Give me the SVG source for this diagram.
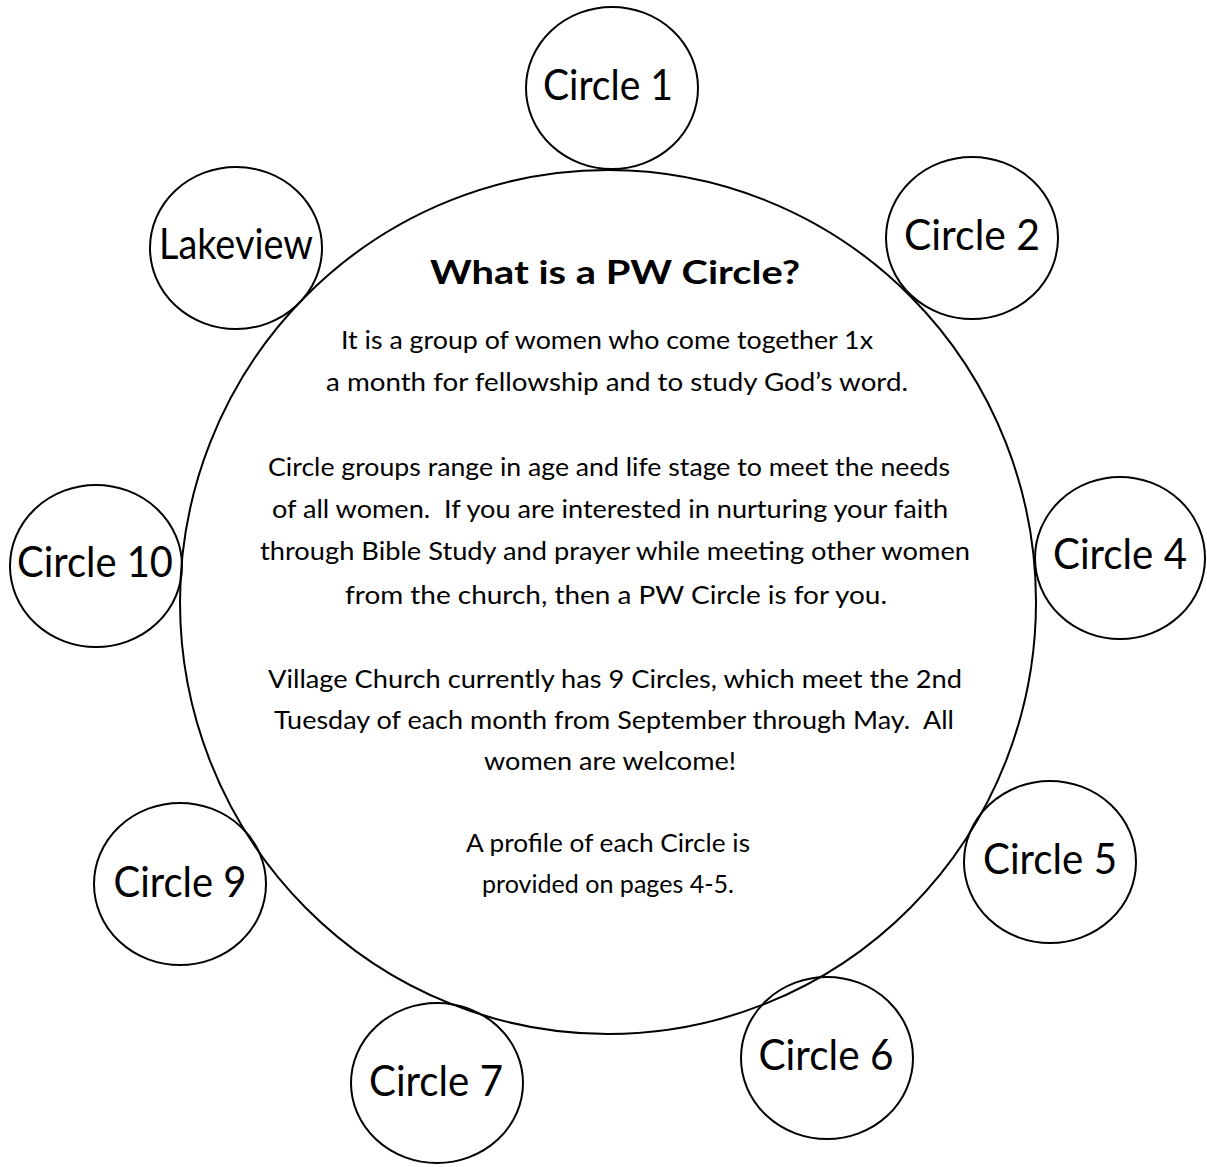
<svg xmlns="http://www.w3.org/2000/svg" width="1207" height="1167" viewBox="0 0 1207 1167">
<style>
  .ring { fill: none; stroke: #000; stroke-width: 2; }
  .lbl { font-family: Lato, "Open Sans", "Liberation Sans", sans-serif; font-size: 42px; fill: #000; text-anchor: middle; }
  .title { font-family: Lato, "Open Sans", "Liberation Sans", sans-serif; font-size: 32px; font-weight: bold; fill: #000; text-anchor: middle; }
  .body { font-family: Lato, "Open Sans", "Liberation Sans", sans-serif; font-size: 25px; fill: #000; text-anchor: middle; }
</style>
<rect width="1207" height="1167" fill="#fff"/>
<g id="center">
  <ellipse class="ring" cx="608" cy="602" rx="428" ry="432"/>
  <text class="title" x="615" y="284" textLength="370" lengthAdjust="spacingAndGlyphs">What is a PW Circle?</text>
  <text class="body" x="607" y="349" textLength="532" lengthAdjust="spacingAndGlyphs">It is a group of women who come together 1x</text>
  <text class="body" x="617" y="391" textLength="582" lengthAdjust="spacingAndGlyphs">a month for fellowship and to study God’s word.</text>
  <text class="body" x="609" y="476" textLength="682" lengthAdjust="spacingAndGlyphs">Circle groups range in age and life stage to meet the needs</text>
  <text class="body" x="610" y="518" textLength="676" lengthAdjust="spacingAndGlyphs" xml:space="preserve">of all women.  If you are interested in nurturing your faith</text>
  <text class="body" x="615" y="560" textLength="710" lengthAdjust="spacingAndGlyphs">through Bible Study and prayer while meeting other women</text>
  <text class="body" x="616" y="604" textLength="542" lengthAdjust="spacingAndGlyphs">from the church, then a PW Circle is for you.</text>
  <text class="body" x="615" y="688" textLength="694" lengthAdjust="spacingAndGlyphs">Village Church currently has 9 Circles, which meet the 2nd</text>
  <text class="body" x="614" y="729" textLength="680" lengthAdjust="spacingAndGlyphs" xml:space="preserve">Tuesday of each month from September through May.  All</text>
  <text class="body" x="610" y="770" textLength="252" lengthAdjust="spacingAndGlyphs">women are welcome!</text>
  <text class="body" x="608" y="852" textLength="284" lengthAdjust="spacingAndGlyphs">A profile of each Circle is</text>
  <text class="body" x="608" y="893" textLength="252" lengthAdjust="spacingAndGlyphs">provided on pages 4-5.</text>
</g>
<g id="circle1">
  <ellipse class="ring" cx="612" cy="88" rx="86" ry="81"/>
  <text class="lbl" x="608" y="100" textLength="130" lengthAdjust="spacingAndGlyphs">Circle 1</text>
</g>
<g id="circle2">
  <ellipse class="ring" cx="972" cy="238" rx="86" ry="81"/>
  <text class="lbl" x="972" y="250" textLength="136" lengthAdjust="spacingAndGlyphs">Circle 2</text>
</g>
<g id="lakeview">
  <ellipse class="ring" cx="236" cy="248" rx="86" ry="81"/>
  <text class="lbl" x="236" y="259" textLength="154" lengthAdjust="spacingAndGlyphs">Lakeview</text>
</g>
<g id="circle10">
  <ellipse class="ring" cx="96" cy="566" rx="86" ry="81"/>
  <text class="lbl" x="95" y="577" textLength="156" lengthAdjust="spacingAndGlyphs">Circle 10</text>
</g>
<g id="circle4">
  <ellipse class="ring" cx="1120" cy="558" rx="85" ry="81"/>
  <text class="lbl" x="1120" y="569" textLength="134" lengthAdjust="spacingAndGlyphs">Circle 4</text>
</g>
<g id="circle5">
  <ellipse class="ring" cx="1050" cy="862" rx="86" ry="81"/>
  <text class="lbl" x="1050" y="874" textLength="134" lengthAdjust="spacingAndGlyphs">Circle 5</text>
</g>
<g id="circle9">
  <ellipse class="ring" cx="180" cy="884" rx="86" ry="81"/>
  <text class="lbl" x="180" y="897" textLength="133" lengthAdjust="spacingAndGlyphs">Circle 9</text>
</g>
<g id="circle7">
  <ellipse class="ring" cx="437" cy="1083" rx="86" ry="80"/>
  <text class="lbl" x="436" y="1096" textLength="134" lengthAdjust="spacingAndGlyphs">Circle 7</text>
</g>
<g id="circle6">
  <ellipse class="ring" cx="827" cy="1058" rx="86" ry="81"/>
  <text class="lbl" x="826" y="1070" textLength="135" lengthAdjust="spacingAndGlyphs">Circle 6</text>
</g>
</svg>
